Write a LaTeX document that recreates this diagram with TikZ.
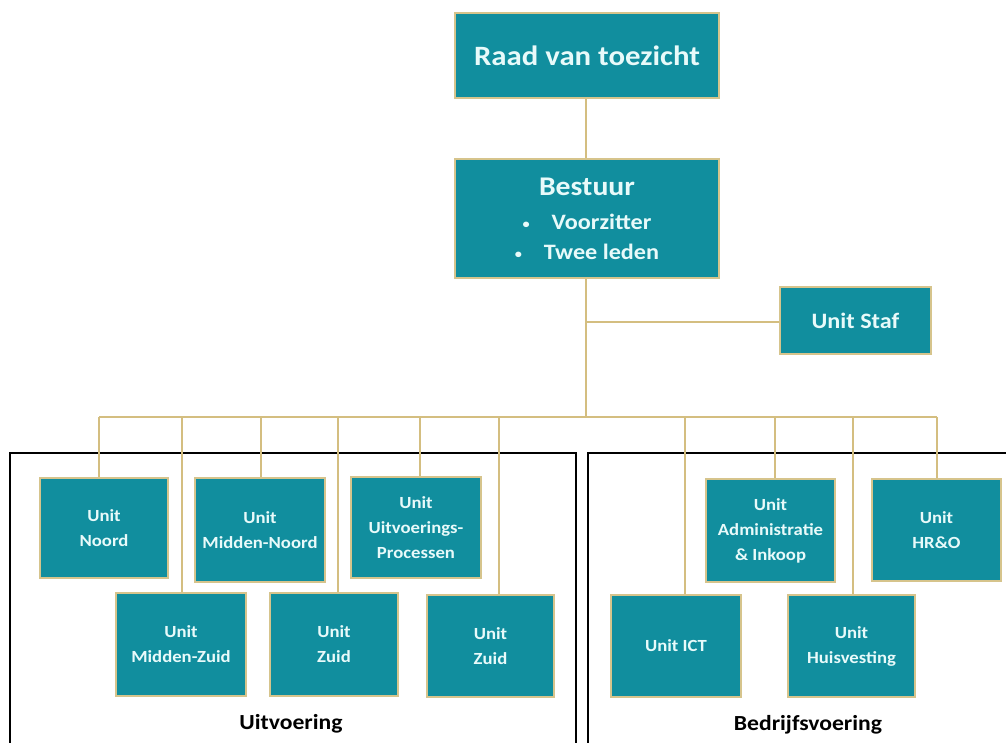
\documentclass[tikz,border=0pt]{standalone}
\usepackage{fontspec}
\setmainfont{Carlito}[FakeStretch=1.1]
\definecolor{boxfill}{RGB}{17,142,158}
\definecolor{boxedge}{RGB}{214,196,140}
\definecolor{linegold}{RGB}{212,190,128}
\definecolor{boxtext}{RGB}{232,250,250}
\tikzset{
  unitbox/.style={draw=boxedge, line width=2.2pt, fill=boxfill, text=boxtext,
    font=\bfseries\fontsize{17}{25}\selectfont, align=center, inner sep=0pt},
  conn/.style={draw=linegold, line width=2.4pt},
  frame/.style={draw=black, line width=2.6pt},
  grouplabel/.style={font=\bfseries\fontsize{21.5}{24}\selectfont, text=black}
}
% place a box by its pixel corners (x1,y1) and (x2,y2)
\newcommand{\pbox}[6][]{%
  \node[unitbox,#1, minimum width=#4-#2, minimum height=#5-#3] (#6) at ({(#2+#4)/2},{(#3+#5)/2})}
\newcommand{\blt}{{\fontsize{13}{13}\selectfont\raisebox{1pt}{\textbullet}}\hspace{22pt}}
\begin{document}
\begin{tikzpicture}[x=1pt,y=-1pt]
\useasboundingbox (0,0) rectangle (1006,742);

% group frames
\draw[frame] (10,760) -- (10,453) -- (576,453) -- (576,760);
\draw[frame] (588,760) -- (588,453) -- (1010,453);

% top of the organisation
\pbox[font=\bfseries\fontsize{28}{32}\selectfont]{455}{13}{719}{98}{raad} {Raad van toezicht};
\pbox[font=\bfseries\fontsize{22}{30}\selectfont]{455}{159}{719}{278}{bestuur}
  {{\fontsize{27}{30}\selectfont Bestuur}\\[4pt]
   \blt Voorzitter\\
   \blt Twee leden};
\pbox[font=\bfseries\fontsize{22}{26}\selectfont]{780}{287}{931}{354}{staf} {Unit Staf};

% Uitvoering
\pbox{40}{478}{168}{578}{noord} {Unit\\Noord};
\pbox{195}{478}{325}{582}{middennoord} {Unit\\Midden-Noord};
\pbox{351}{477}{481}{578}{processen} {Unit\\Uitvoerings-\\Processen};
\pbox{116}{593}{246}{696}{middenzuid} {Unit\\Midden-Zuid};
\pbox{270}{593}{398}{696}{zuida} {Unit\\Zuid};
\pbox{427}{595}{554}{697}{zuidb} {Unit\\Zuid};

% Bedrijfsvoering
\pbox{706}{479}{835}{582}{admin} {Unit\\Administratie\\\& Inkoop};
\pbox{872}{479}{1001}{581}{hro} {Unit\\HR\&O};
\pbox{611}{595}{741}{697}{ict} {Unit ICT};
\pbox{788}{595}{915}{697}{huis} {Unit\\Huisvesting};

\node[grouplabel] (uitv) at (291,724) {Uitvoering};
\node[grouplabel] (bedr) at (808,725) {Bedrijfsvoering};

% connectors
\coordinate (trunk) at (586,322);
\coordinate (busL) at (99,417);
\coordinate (busR) at (937,417);
\coordinate (busM) at (586,417);
\draw[conn] (raad.south -| trunk) -- (bestuur.north -| trunk);
\draw[conn] (bestuur.south -| trunk) -- (busM);
\draw[conn] (trunk) -- (staf.west |- trunk);
\draw[conn] (busL) -- (busR);
\foreach \xx/\nn in {99/noord,182/middenzuid,261/middennoord,338/zuida,420/processen,499/zuidb,685/ict,775/admin,853/huis,937/hro}{
  \coordinate (d\nn) at (\xx,417);
  \draw[conn] (d\nn) -- (d\nn |- \nn.north);
}
\end{tikzpicture}
\end{document}
